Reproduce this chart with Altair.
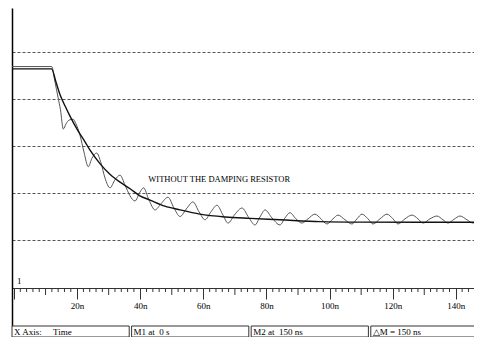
import altair as alt
import pandas as pd

# ---- data (time in ns, amplitude in grid divisions) ----
smooth_t = [-0.63, 11.9, 13.3, 14.6, 16.2, 17.7, 20.3, 22.5, 24.1, 27.3, 30.4, 33.6, 36.8,
            39.9, 43.1, 47.8, 52.6, 58.9, 66.9, 74.8, 84.3, 97.0, 109.6, 128.6, 148.3]
smooth_v = [3.64, 3.64, 3.36, 3.09, 2.85, 2.64, 2.32, 2.09, 1.91, 1.62, 1.40, 1.23, 1.09,
            0.94, 0.85, 0.72, 0.64, 0.55, 0.49, 0.46, 0.43, 0.39, 0.38, 0.377, 0.377]

osc_t = [-0.63, 11.95, 13.0, 13.94, 14.73, 15.62, 16.48, 17.43, 18.69, 19.65, 20.91, 22.18,
         23.54, 24.71, 26.20, 27.57, 28.83, 30.42, 32.00, 33.59, 35.17, 36.76, 38.34, 39.92,
         41.03, 42.78, 44.68, 46.58, 48.80, 50.70, 52.60, 54.82, 56.72, 58.62, 60.52, 62.42,
         64.32, 66.22, 67.81, 70.03, 72.24, 74.46, 76.36, 77.95, 79.53, 81.75, 84.28, 85.87,
         87.45, 89.35, 91.25, 93.16, 95.37, 97.28, 99.18, 101.08, 102.66, 104.88, 107.10,
         108.68, 110.27, 112.17, 113.75, 115.97, 118.19, 120.09, 121.67, 123.89, 126.11,
         128.01, 129.59, 131.81, 134.03, 135.93, 137.52, 139.42, 141.32, 143.54, 145.44,
         147.02, 148.29]
osc_v = [3.69, 3.69, 3.36, 3.04, 2.77, 2.36, 2.47, 2.55, 2.57, 2.47, 2.23, 1.87,
         1.56, 1.74, 1.85, 1.64, 1.32, 1.11, 1.28, 1.38, 1.17, 0.94, 0.83, 1.02,
         1.11, 0.85, 0.64, 0.77, 0.91, 0.68, 0.50, 0.68, 0.81, 0.60, 0.43, 0.60,
         0.74, 0.53, 0.36, 0.55, 0.68, 0.47, 0.32, 0.49, 0.64, 0.47, 0.32, 0.47,
         0.58, 0.45, 0.36, 0.45, 0.55, 0.45, 0.34, 0.45, 0.53, 0.43, 0.34,
         0.45, 0.55, 0.45, 0.34, 0.45, 0.55, 0.45, 0.34, 0.45, 0.53,
         0.45, 0.36, 0.45, 0.51, 0.43, 0.36, 0.44, 0.51, 0.43, 0.36,
         0.43, 0.49]

major_ticks = [0, 20, 40, 60, 80, 100, 120, 140]
mid_ticks = [10, 30, 50, 70, 90, 110, 130]
minor_ticks = [t for t in range(2, 146, 2) if t % 10 != 0]

annot_text = ["WITHOUT THE DAMPING RESISTOR"]
annot_t = [42.55]
annot_v = [1.30]

chan_text = ["1"]
chan_t = [0.95]
chan_v = [-0.87]

box_labels = ["X Axis:\u00a0\u00a0\u00a0\u00a0\u00a0Time",
              "M1 at \u00a00 s",
              "M2 at \u00a0150 ns",
              "\u25b3M = 150 ns"]

SERIF = "Liberation Serif"

xscale = alt.Scale(domain=[-0.63, 145.76], nice=False, zero=False)
yscale = alt.Scale(domain=[-1.830, 4.936], nice=False, zero=False)

xaxis = alt.Axis(values=major_ticks, tickSize=11, tickColor="#333", domainColor="#333",
                 labelExpr="datum.value > 0 ? datum.value + 'n' : ''",
                 labelFont=SERIF, labelFontSize=9, labelColor="black", labelPadding=2,
                 labelFlush=False, labelOverlap=False, offset=-38, title=None, grid=False)
yaxis = alt.Axis(values=[0, 1, 2, 3, 4], grid=True, gridDash=[3, 2], gridColor="#555",
                 gridWidth=1, ticks=False, labels=False, domain=True, domainColor="black",
                 domainWidth=1.5, title=None)


def X(field):
    return alt.X(field, type="quantitative", scale=xscale, axis=xaxis)


def Y(field):
    return alt.Y(field, type="quantitative", scale=yscale, axis=yaxis)


smooth_df = pd.DataFrame({"t": smooth_t, "v": smooth_v})
osc_df = pd.DataFrame({"t": osc_t, "v": osc_v})

osc = alt.Chart(osc_df).mark_line(color="#555", strokeWidth=1, interpolate="monotone").encode(
    x=X("t"), y=Y("v"))
smooth = alt.Chart(smooth_df).mark_line(color="#111", strokeWidth=1.4, interpolate="monotone").encode(
    x=X("t"), y=Y("v"))

minor = alt.Chart(pd.DataFrame({"t": minor_ticks})).mark_rule(color="#333", strokeWidth=1).encode(
    x=X("t"), y=alt.value(280), y2=alt.value(284))
mid = alt.Chart(pd.DataFrame({"t": mid_ticks})).mark_rule(color="#333", strokeWidth=1).encode(
    x=X("t"), y=alt.value(280), y2=alt.value(287))

annot = alt.Chart(pd.DataFrame({"t": annot_t, "v": annot_v, "s": annot_text})).mark_text(
    align="left", baseline="middle", font=SERIF, fontSize=8.5, color="black").encode(
    x=X("t"), y=Y("v"), text="s:N")
chan = alt.Chart(pd.DataFrame({"t": chan_t, "v": chan_v, "s": chan_text})).mark_text(
    align="left", baseline="middle", font=SERIF, fontSize=9, color="black").encode(
    x=X("t"), y=Y("v"), text="s:N")

main = alt.layer(minor, mid, osc, smooth, annot, chan)

box_df = pd.DataFrame({"label": box_labels})
bscale = alt.Scale(paddingInner=0.02, paddingOuter=0, range=[0, 476])
rect = alt.Chart(box_df).mark_rect(fill="white", stroke="#333", strokeWidth=1).encode(
    x=alt.X("label:N", sort=None, axis=None, scale=bscale),
    y=alt.value(318), y2=alt.value(329))
btext = alt.Chart(box_df).mark_text(align="left", baseline="alphabetic", dx=2, font=SERIF,
                                    fontSize=9, color="black").encode(
    x=alt.X("label:N", sort=None, axis=None, scale=bscale, bandPosition=0),
    y=alt.value(327), text="label:N")
boxes = alt.layer(rect, btext)

chart = alt.layer(main, boxes).resolve_scale(x="independent").properties(
    width=462, height=318,
    autosize=alt.AutoSizeParams(type="none"),
    padding={"left": 4, "top": 0, "right": 0, "bottom": 11},
).configure_view(stroke=None)

chart.save("out.html", embed_options={"renderer": "svg", "actions": False})
